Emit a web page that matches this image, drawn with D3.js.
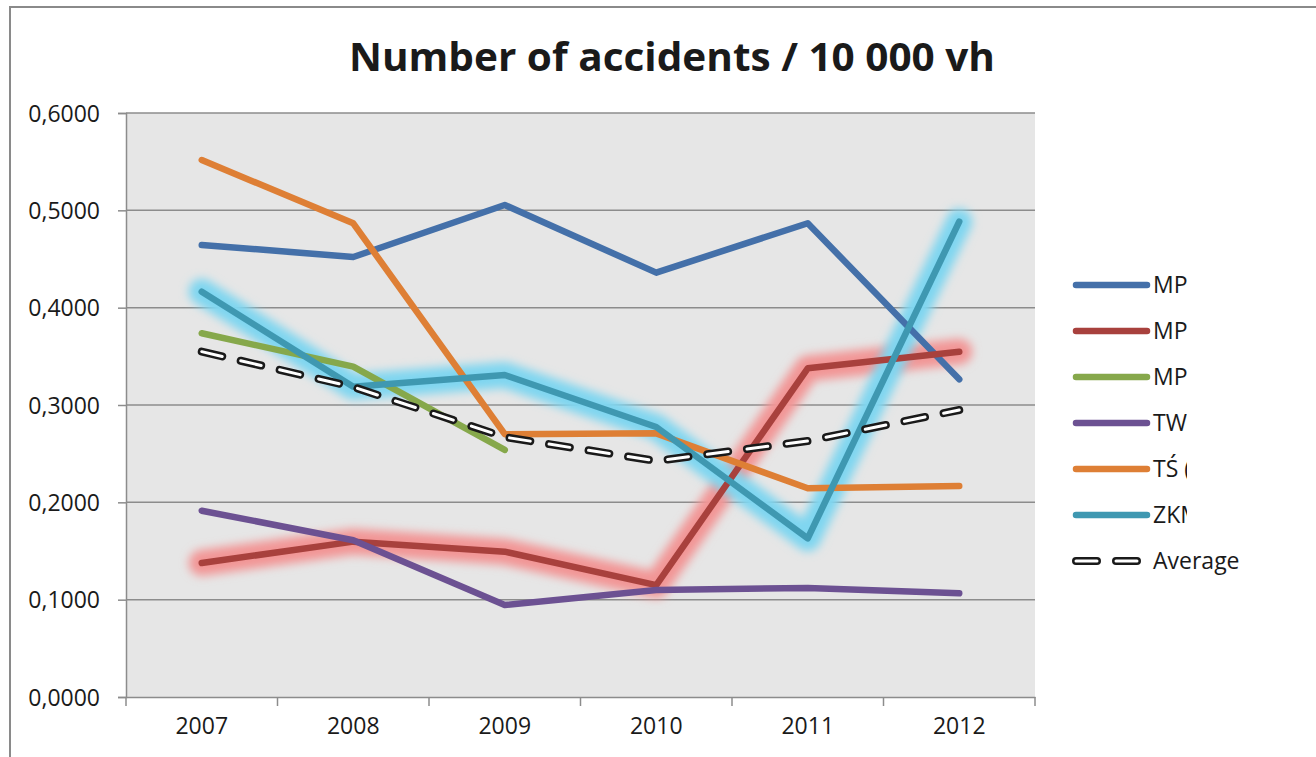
<!DOCTYPE html>
<html>
<head>
<meta charset="utf-8">
<script src="https://cdn.jsdelivr.net/npm/d3@7"></script>
<style>
  html, body { margin: 0; padding: 0; background: #ffffff; }
  svg { display: block; }
  text { font-family: "Open Sans", "Noto Sans", sans-serif; fill: #1a1a1a; }
</style>
</head>
<body>
<svg id="chart" width="1316" height="757"></svg>
<script>
// ---- data ----
const years = ["2007", "2008", "2009", "2010", "2011", "2012"];
const yTicks = [0, 0.1, 0.2, 0.3, 0.4, 0.5, 0.6];
const seriesNames = ["MPK", "MPK", "MPK", "TW", "TŚ (", "ZKM", "Average"];
const mp1 = [0.4644, 0.4521, 0.5055, 0.4360, 0.4867, 0.3264];
const mp2 = [0.1377, 0.1596, 0.1493, 0.1150, 0.3377, 0.3548];
const mp3 = [0.3737, 0.3394, 0.2538, null, null, null];
const tw  = [0.1914, 0.1610, 0.0945, 0.1100, 0.1120, 0.1065];
const ts  = [0.5517, 0.4867, 0.2700, 0.2709, 0.2144, 0.2168];
const zkm = [0.4164, 0.3188, 0.3308, 0.2774, 0.1630, 0.4884];
const avg = [0.3548, 0.3185, 0.2670, 0.2425, 0.2630, 0.2949];

// ---- styles ----
const colors = ["#4470a9", "#a8413d", "#86a84b", "#6c5192", "#de7f35", "#3f98b1", "#1a1a1a"];
const glows = [null, "#f29595", null, null, null, "#7fd6f0", null];
const seriesValues = [mp1, mp2, mp3, tw, ts, zkm, avg];

const svg = d3.select("#chart");
const W = 1316, H = 757;
const plot = { left: 126, top: 113, right: 1035, bottom: 697 };

// outer frame
svg.append("rect").attr("x", 10).attr("y", 7).attr("width", W + 20).attr("height", H + 20)
  .attr("fill", "#ffffff").attr("stroke", "#8a8a8a").attr("stroke-width", 2);

// defs
const defs = svg.append("defs");
const f = defs.append("filter").attr("id", "glow").attr("x", "-20%").attr("y", "-20%").attr("width", "140%").attr("height", "140%");
f.append("feGaussianBlur").attr("stdDeviation", 5);

// title
svg.append("text").attr("x", 672).attr("y", 71).attr("text-anchor", "middle")
  .attr("font-size", 39).attr("font-weight", "bold").attr("fill", "#0d0d0d")
  .attr("textLength", 646).attr("lengthAdjust", "spacingAndGlyphs")
  .text("Number of accidents / 10 000 vh");

// scales
const x = d3.scaleBand().domain(years).range([plot.left, plot.right]).padding(0);
const y = d3.scaleLinear().domain([0, 0.6]).range([plot.bottom, plot.top]);
const cx = d => x(d) + x.bandwidth() / 2;

// plot background
svg.append("rect").attr("x", plot.left).attr("y", plot.top)
  .attr("width", plot.right - plot.left).attr("height", plot.bottom - plot.top)
  .attr("fill", "#e6e6e6");

// gridlines
svg.append("g").selectAll("line").data(yTicks.slice(1)).join("line")
  .attr("x1", plot.left).attr("x2", plot.right)
  .attr("y1", d => y(d)).attr("y2", d => y(d))
  .attr("stroke", "#8c8c8c").attr("stroke-width", 1.5);

// y axis
const fmt = d => d3.format(".4f")(d).replace(".", ",");
const yAxis = svg.append("g").attr("transform", `translate(${plot.left},0)`)
  .call(d3.axisLeft(y).tickValues(yTicks).tickFormat(fmt).tickSize(8).tickPadding(18));
yAxis.select(".domain").attr("stroke", "#8c8c8c").attr("stroke-width", 1.5);
yAxis.selectAll(".tick line").attr("stroke", "#8c8c8c").attr("stroke-width", 1.5);
yAxis.selectAll(".tick text").attr("font-size", 23).attr("font-family", "Open Sans").attr("fill", "#141414").attr("dy", "0.35em");

// x axis
const xAxis = svg.append("g").attr("transform", `translate(0,${plot.bottom})`)
  .call(d3.axisBottom(x).tickSize(0).tickPadding(21));
xAxis.select(".domain").attr("stroke", "#8c8c8c").attr("stroke-width", 1.5);
xAxis.selectAll(".tick text").attr("font-size", 23).attr("font-family", "Open Sans").attr("fill", "#141414");
const bounds = years.map(d => x(d)).concat([x(years[years.length - 1]) + x.bandwidth()]);
xAxis.selectAll("line.bt").data(bounds).join("line").attr("class", "bt")
  .attr("x1", d => d).attr("x2", d => d).attr("y1", 0).attr("y2", 9)
  .attr("stroke", "#8c8c8c").attr("stroke-width", 1.5);

// lines
const line = d3.line().defined(d => d.v != null).x(d => cx(d.year)).y(d => y(d.v));
const lines = svg.append("g");
seriesValues.forEach((vals, i) => {
  const pts = years.map((yr, k) => ({ year: yr, v: vals[k] }));
  if (glows[i]) {
    lines.append("path").datum(pts).attr("d", line).attr("fill", "none")
      .attr("stroke", glows[i]).attr("stroke-width", 26).attr("stroke-linejoin", "round")
      .attr("stroke-linecap", "round").attr("filter", "url(#glow)");
  }
});
seriesValues.forEach((vals, i) => {
  const pts = years.map((yr, k) => ({ year: yr, v: vals[k] }));
  if (i === 6) {
    lines.append("path").datum(pts).attr("d", line).attr("fill", "none")
      .attr("stroke", colors[i]).attr("stroke-width", 8).attr("stroke-dasharray", "21,19")
      .attr("stroke-linecap", "round").attr("stroke-linejoin", "round");
    lines.append("path").datum(pts).attr("d", line).attr("fill", "none")
      .attr("stroke", "#ffffff").attr("stroke-width", 3).attr("stroke-dasharray", "21,19")
      .attr("stroke-linecap", "round").attr("stroke-linejoin", "round");
  } else {
    lines.append("path").datum(pts).attr("d", line).attr("fill", "none")
      .attr("stroke", colors[i]).attr("stroke-width", 6.5)
      .attr("stroke-linecap", "round").attr("stroke-linejoin", "round");
  }
});

// legend
const legend = svg.append("g");
const legY = d3.scalePoint().domain(d3.range(seriesNames.length)).range([285, 561]);
seriesNames.forEach((name, i) => {
  const g = legend.append("g").attr("transform", `translate(0,${legY(i)})`);
  if (i === 6) {
    g.append("line").attr("x1", 1076).attr("x2", 1147).attr("y1", 0).attr("y2", 0)
      .attr("stroke", colors[i]).attr("stroke-width", 8).attr("stroke-dasharray", "21,19")
      .attr("stroke-linecap", "round");
    g.append("line").attr("x1", 1076).attr("x2", 1147).attr("y1", 0).attr("y2", 0)
      .attr("stroke", "#fff").attr("stroke-width", 3).attr("stroke-dasharray", "21,19")
      .attr("stroke-linecap", "round");
  } else {
    g.append("line").attr("x1", 1076).attr("x2", 1147).attr("y1", 0).attr("y2", 0)
      .attr("stroke", colors[i]).attr("stroke-width", 6.5).attr("stroke-linecap", "round");
  }
  const t = g.append("text").attr("x", 1153).attr("y", 8).attr("font-size", 23).attr("fill", "#141414").text(name);
  if (i < 6) {
    const cid = "lc" + i;
    defs.append("clipPath").attr("id", cid).append("rect")
      .attr("x", 1140).attr("y", -22).attr("width", 47).attr("height", 44);
    t.attr("clip-path", `url(#${cid})`);
  }
});
</script>
</body>
</html>
